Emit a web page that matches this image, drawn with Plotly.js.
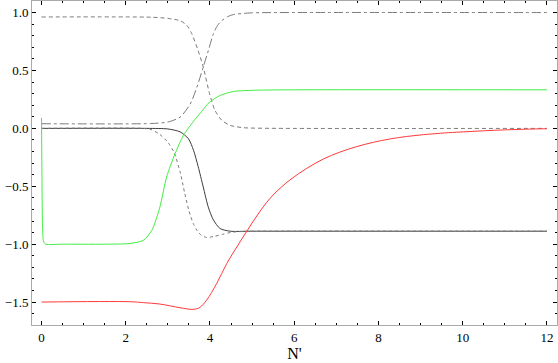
<!DOCTYPE html>
<html>
<head>
<meta charset="utf-8">
<script src="https://cdn.plot.ly/plotly-3.0.1.min.js"></script>
<style>
  body { margin: 0; background: #fff; }
  #graph { width: 558px; height: 363px; }
</style>
</head>
<body>
<div id="graph"></div>
<script>
// curva tracejada (cai de ~0.96 para 0)
const xDash = [0, 2.6, 3.0, 3.29, 3.45, 3.57, 3.72, 3.84, 3.99, 4.12, 4.28, 4.48, 4.79, 5.3, 12];
const yDash = [0.962, 0.96, 0.95, 0.93, 0.89, 0.816, 0.67, 0.53, 0.30, 0.155, 0.07, 0.026, 0.006, 0.001, 0];

// curva traço-ponto (sobe de ~0.04 para 1)
const xDashDot = [0, 2.6, 3.0, 3.29, 3.53, 3.69, 3.84, 3.96, 4.08, 4.18, 4.28, 4.42, 4.56, 4.95, 5.5, 12];
const yDashDot = [0.04, 0.042, 0.055, 0.097, 0.21, 0.356, 0.53, 0.67, 0.816, 0.89, 0.93, 0.965, 0.983, 0.997, 1.0, 1.0];

// curva verde
const xGreen = [0, 0.01, 0.025, 0.05, 0.1, 0.5, 1.5, 2.1, 2.42, 2.62, 2.81, 2.97, 3.17, 3.37, 3.65, 3.76, 3.99, 4.24, 4.56, 4.95, 5.5, 12];
const yGreen = [0.09, -0.4, -0.85, -0.98, -1.0, -1.0, -1.0, -0.994, -0.966, -0.88, -0.68, -0.42, -0.22, -0.06, 0.08, 0.127, 0.227, 0.284, 0.319, 0.328, 0.332, 0.333];

// curva cheia escura
const xSolid = [0, 2.5, 3.0, 3.29, 3.49, 3.61, 3.72, 3.84, 3.96, 4.08, 4.24, 4.48, 5.0, 12];
const ySolid = [0, 0, -0.005, -0.03, -0.09, -0.19, -0.33, -0.506, -0.68, -0.79, -0.865, -0.888, -0.888, -0.888];

// curva pontilhada
const xDot = [0, 2.4, 2.6, 2.8, 3.0, 3.15, 3.3, 3.4, 3.5, 3.6, 3.7, 3.8, 3.92, 4.1, 4.3, 4.5, 4.75, 5.0, 12];
const yDot = [0, 0, -0.01, -0.05, -0.12, -0.21, -0.39, -0.56, -0.71, -0.82, -0.885, -0.925, -0.942, -0.933, -0.915, -0.898, -0.89, -0.888, -0.888];

// curva vermelha
const xRed = [0, 2.1, 2.42, 2.81, 3.29, 3.6, 3.76, 3.92, 4.16, 4.4, 4.64, 4.88, 5.19, 5.5, 5.9, 6.3, 6.69, 7.09, 7.49, 7.88, 8.28, 8.67, 9.07, 9.47, 9.86, 10.5, 11.0, 11.5, 12];
const yRed = [-1.5, -1.497, -1.505, -1.517, -1.549, -1.563, -1.546, -1.483, -1.339, -1.166, -1.023, -0.885, -0.715, -0.575, -0.445, -0.345, -0.265, -0.204, -0.157, -0.12, -0.091, -0.07, -0.054, -0.042, -0.033, -0.021, -0.013, -0.007, -0.003];

function trace(x, y, color, dash, smoothing) {
    return {
        x: x,
        y: y,
        type: 'scatter',
        mode: 'lines',
        line: { color: color, width: 1, dash: dash, shape: 'spline', smoothing: smoothing },
        hoverinfo: 'skip'
    };
}

const data = [
    trace(xDash, yDash, '#7a7a7a', '4px,3px', 0.7),
    trace(xDashDot, yDashDot, '#7a7a7a', 'dashdot', 0.7),
    trace(xSolid, ySolid, '#3c3c3c', 'solid', 0.7),
    trace(xDot, yDot, '#7a7a7a', 'dot', 0.7),
    trace(xGreen, yGreen, '#40ee40', 'solid', 0.7),
    trace(xRed, yRed, '#ff3a3a', 'solid', 1.0)
];

const axisFont = { family: 'Liberation Serif, Times New Roman, serif', size: 13, color: '#000' };

const layout = {
    width: 558,
    height: 363,
    margin: { l: 32, r: 1, t: 1, b: 38 },
    paper_bgcolor: '#fff',
    plot_bgcolor: '#fff',
    showlegend: false,
    font: axisFont,
    xaxis: {
        range: [-0.226, 12.24],
        tickvals: [0, 2, 4, 6, 8, 10, 12],
        ticks: 'inside',
        ticklen: 4,
        tickcolor: '#000',
        tickfont: axisFont,
        showgrid: false,
        zeroline: false,
        showline: true,
        linecolor: '#aaa',
        linewidth: 1,
        mirror: 'ticks',
        minor: { dtick: 0.5, ticks: 'inside', ticklen: 2, tickcolor: '#000', showgrid: false },
        title: { text: "N'", font: { family: 'Liberation Serif, serif', size: 16, color: '#000' }, standoff: 4 }
    },
    yaxis: {
        range: [-1.698, 1.1],
        tickvals: [-1.5, -1.0, -0.5, 0, 0.5, 1.0],
        tickformat: '.1f',
        ticks: 'inside',
        ticklen: 4,
        tickcolor: '#000',
        tickfont: axisFont,
        showgrid: false,
        zeroline: false,
        showline: true,
        linecolor: '#aaa',
        linewidth: 1,
        mirror: 'ticks',
        minor: { dtick: 0.1, ticks: 'inside', ticklen: 2, tickcolor: '#000', showgrid: false }
    }
};

Plotly.newPlot('graph', data, layout, { staticPlot: true });
</script>
</body>
</html>
